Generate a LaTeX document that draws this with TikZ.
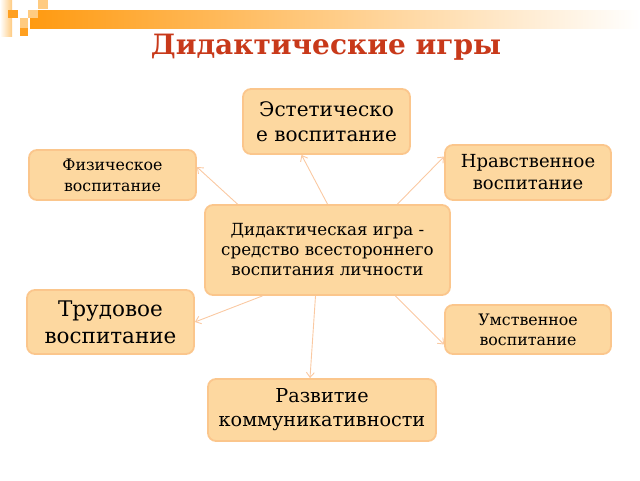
\documentclass[tikz,border=0pt]{standalone}
\usepackage{fontspec}
\setmainfont{DejaVu Serif}
\usepackage{tikz}
\usetikzlibrary{arrows.meta}

\definecolor{boxfill}{HTML}{FDD8A0}
\definecolor{boxline}{HTML}{FBC68C}
\definecolor{arrowcol}{HTML}{FAC9A2}
\definecolor{titlered}{HTML}{C8391A}
\definecolor{barorange}{HTML}{FF9A10}
\definecolor{sqdark}{HTML}{FFA020}
\definecolor{sqlight}{HTML}{FFCB80}

\tikzset{
    bluebox/.style={draw=boxline, fill=boxfill, line width=1.8pt, rounded corners=8pt,
        align=center, inner sep=0pt},
    linkarrow/.style={draw=arrowcol, line width=0.9pt, -{Straight Barb[length=5pt,width=8pt]}}
}

\begin{document}
\begin{tikzpicture}[x=1pt, y=-1pt]
    % Page frame
    \useasboundingbox (0,0) rectangle (640,480);

    % Header bar and squares
    \shade[left color=barorange, right color=white] (30,10) rectangle (640,28);
    \shade[left color=white, right color=sqlight] (0,0) rectangle (12,36);
    \fill[sqdark] (8,10) rectangle (18,18);
    \fill[sqlight] (38,0) rectangle (48,9);
    \fill[sqlight] (28,10) rectangle (38,18);
    \fill[sqlight] (20,18) rectangle (28,28);
    \fill[sqdark] (20,28) rectangle (28,36);

    % Title
    \node[text=titlered, font=\fontsize{28}{32}\selectfont\bfseries] (title) at (326,47) {Дидактические игры};

    % Boxes
    \node[bluebox, minimum width=167pt, minimum height=65pt, font=\fontsize{20}{25}\selectfont]
        (est) at (326.5,121.5) {Эстетическо\\е воспитание};
    \node[bluebox, minimum width=167pt, minimum height=50pt, font=\fontsize{15.8}{21}\selectfont]
        (phys) at (112.5,175) {Физическое\\воспитание};
    \node[bluebox, minimum width=166pt, minimum height=55pt, font=\fontsize{18}{22}\selectfont]
        (nrav) at (528,172.5) {Нравственное\\воспитание};
    \node[bluebox, minimum width=245pt, minimum height=90pt, font=\fontsize{16.7}{20}\selectfont]
        (cen) at (327.5,250) {Дидактическая игра -\\средство всестороннего\\воспитания личности};
    \node[bluebox, minimum width=167pt, minimum height=64pt, font=\fontsize{21.5}{27}\selectfont]
        (trud) at (110.5,322) {Трудовое\\воспитание};
    \node[bluebox, minimum width=166pt, minimum height=49pt, font=\fontsize{15.8}{20}\selectfont]
        (umst) at (528,329.5) {Умственное\\воспитание};
    \node[bluebox, minimum width=228pt, minimum height=62pt, font=\fontsize{19.2}{24}\selectfont]
        (razv) at (322,410) {Развитие\\коммуникативности};

    % Arrows from the centre
    \draw[linkarrow] (cen.north) -- ([xshift=-25pt]est.south);
    \draw[linkarrow] ([xshift=-90pt]cen.north) -- ([yshift=8pt]phys.east);
    \draw[linkarrow] ([xshift=70pt]cen.north) -- ([yshift=16pt]nrav.west);
    \draw[linkarrow] ([xshift=-65pt]cen.south) -- (trud.east);
    \draw[linkarrow] ([xshift=68pt]cen.south) -- ([yshift=-15pt]umst.west);
    \draw[linkarrow] ([xshift=-12pt]cen.south) -- ([xshift=-12pt]razv.north);
\end{tikzpicture}
\end{document}
